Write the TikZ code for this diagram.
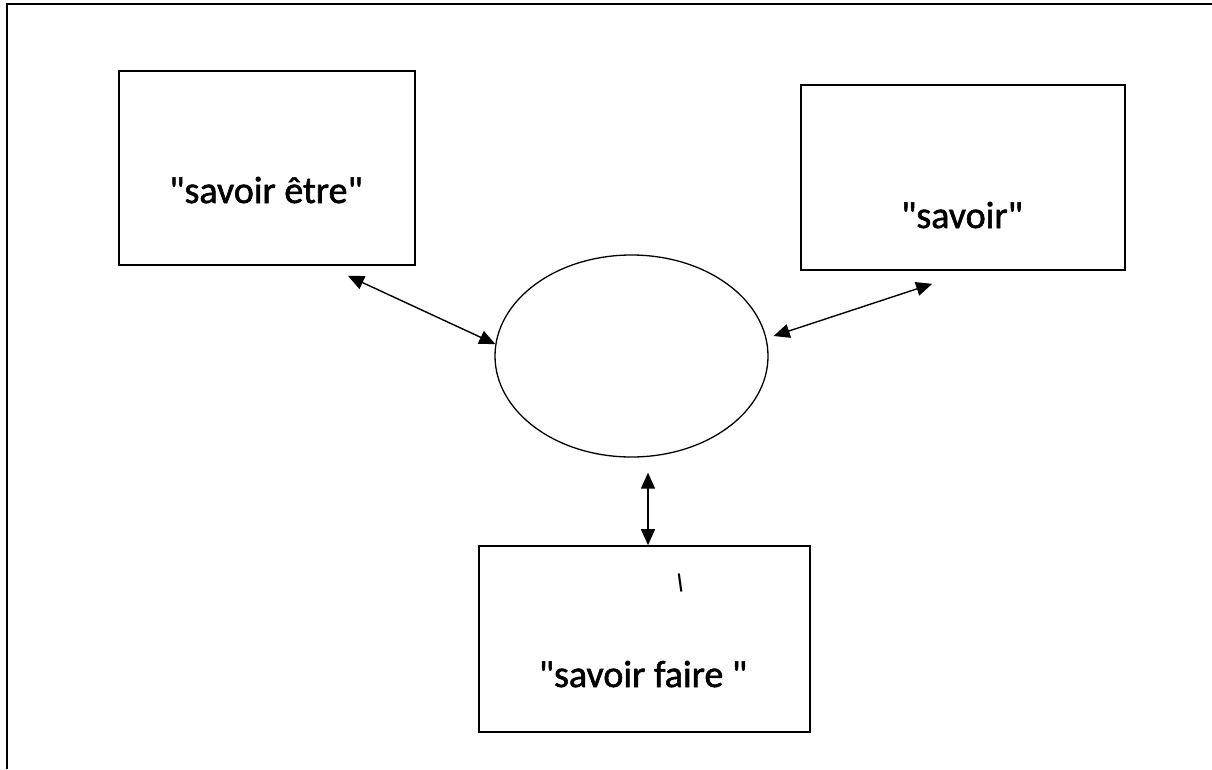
\documentclass[tikz,border=0pt]{standalone}
\usepackage{fontspec}
\setmainfont{Carlito}
% a copy of the family without TeX quote ligatures, for straight quotes
\newfontfamily\labelfont{Carlito}[FakeBold=1.5]
\newfontfamily\arabicfont[Script=Arabic]{DejaVu Sans}
\TeXXeTstate=1
\usetikzlibrary{arrows.meta,shapes.geometric,calc}
\begin{document}
\begin{tikzpicture}[x=1pt,y=-1pt,
  framebox/.style={draw, line width=1.7pt, rectangle, inner sep=0pt},
  hub/.style={draw, line width=1.3pt, ellipse, inner sep=0pt,
    minimum width=273pt, minimum height=202pt},
  label/.style={font=\labelfont\fontsize{38}{40}\selectfont, anchor=base, inner sep=0pt},
  dbl/.style={line width=1.4pt, {Triangle[length=16pt,width=14pt]}-{Triangle[length=16pt,width=14pt]}}]
  \useasboundingbox (0,0) rectangle (1212,769);

  % outer frame (open at the bottom and right)
  \draw[line width=2pt] (7,769) -- (7,4) -- (1212,4);

  % the three boxes
  \node[framebox, minimum width=296pt, minimum height=194pt] (etre) at (267,168) {};
  \node[framebox, minimum width=324pt, minimum height=185pt] (savoir) at (963,177.5) {};
  \node[framebox, minimum width=331pt, minimum height=186pt] (faire) at (644.5,639) {};

  % central ellipse
  \node[hub] (centre) at (631.5,356) {};

  % texts
  \node[label] (t1) at (266,203) {"savoir être"};
  \node[label] (t2) at (962,228) {"savoir"};
  \node[label] (t3) at (643,687) {"savoir faire "};
  \node[anchor=base, inner sep=0pt, rotate=8, font=\arabicfont\fontsize{24}{26}\selectfont] (t4) at (682,592) {\beginR ا\endR};

  % connectors
  \coordinate (p1) at ($(etre.south)+(81,10)$);
  \draw[dbl] (p1) -- (centre.175);
  \coordinate (p2a) at ($(savoir.south west)+(132,13)$);
  \coordinate (p2b) at ($(centre.east)+(5,-20)$);
  \draw[dbl] (p2b) -- (p2a);
  \coordinate (p3) at ($(centre.south)+(16.5,15)$);
  \draw[dbl] (p3) -- (p3 |- faire.north);
\end{tikzpicture}
\end{document}
